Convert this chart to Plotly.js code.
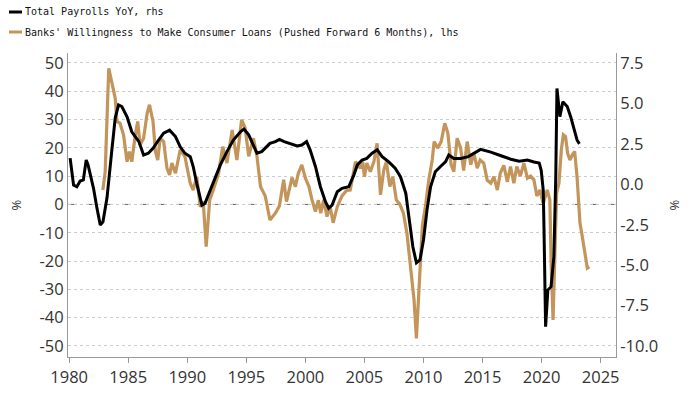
<!DOCTYPE html>
<html>
<head>
<meta charset="utf-8">
<script src="https://cdn.plot.ly/plotly-3.0.1.min.js"></script>
<style>html,body{margin:0;padding:0;background:#fff;}#chart{width:700px;height:394px;}</style>
</head>
<body>
<div id="chart"></div>
<script>
// Total Payrolls YoY (rhs, %)
const payrollYears = [1980.08,1980.37,1980.65,1980.93,1981.2,1981.44,1981.6,1982.06,1982.35,1982.63,1982.86,1983.2,1983.6,1983.9,1984.18,1984.46,1984.9,1985.3,1985.9,1986.3,1986.7,1987.1,1987.57,1988.0,1988.5,1989.0,1989.4,1989.8,1990.25,1990.5,1990.8,1991.24,1991.5,1991.95,1992.4,1992.8,1993.36,1993.9,1994.5,1994.8,1995.2,1995.6,1995.9,1996.3,1996.7,1997.0,1997.46,1997.8,1998.2,1998.7,1999.3,1999.7,2000.1,2000.4,2000.85,2001.27,2001.7,2001.97,2002.26,2002.7,2003.1,2003.67,2004.1,2004.4,2004.8,2005.2,2005.65,2006.08,2006.5,2007.06,2007.6,2008.05,2008.5,2008.8,2009.1,2009.4,2009.7,2010.0,2010.3,2010.6,2011.0,2011.44,2011.86,2012.14,2012.57,2013.14,2013.8,2014.83,2015.7,2016.5,2017.4,2018.1,2018.8,2019.35,2019.8,2019.97,2020.14,2020.2,2020.34,2020.53,2020.8,2021.04,2021.2,2021.3,2021.55,2021.8,2022.17,2022.46,2022.74,2023.0,2023.2];
const payrollValues = [1.62,-0.04,-0.15,0.20,0.27,1.50,1.20,-0.25,-1.46,-2.51,-2.32,-0.85,2.02,4.11,4.91,4.81,4.18,3.25,2.64,1.81,1.92,2.23,2.74,3.16,3.35,2.95,2.32,1.92,1.71,1.10,0.06,-1.29,-1.18,-0.36,0.47,1.20,2.02,2.74,3.25,3.41,3.06,2.43,1.92,2.02,2.32,2.53,2.64,2.78,2.64,2.53,2.37,2.43,2.64,2.13,1.10,-0.15,-1.08,-1.48,-1.29,-0.46,-0.25,-0.15,0.57,1.20,1.50,1.60,1.92,2.13,1.71,1.39,0.99,0.47,-0.55,-2.21,-3.86,-4.86,-4.68,-3.44,-1.58,-0.15,0.78,1.10,1.39,1.81,1.60,1.60,1.71,2.16,1.99,1.78,1.55,1.43,1.50,1.38,1.31,0.85,-0.38,-2.62,-8.81,-6.54,-6.33,-4.47,0.47,5.93,4.18,5.10,4.81,4.18,3.35,2.74,2.50];

// Banks' Willingness to Make Consumer Loans, pushed forward 6 months (lhs, %)
const banksYears = [1982.85,1983.05,1983.35,1983.6,1983.9,1984.04,1984.3,1984.6,1984.9,1985.1,1985.3,1985.6,1985.8,1986.0,1986.3,1986.6,1986.8,1987.1,1987.3,1987.5,1987.7,1988.0,1988.28,1988.5,1988.7,1989.0,1989.4,1989.8,1990.25,1990.5,1990.8,1991.1,1991.35,1991.6,1991.9,1992.2,1992.65,1993.0,1993.36,1993.8,1994.2,1994.6,1994.9,1995.2,1995.6,1995.9,1996.2,1996.6,1997.0,1997.46,1997.8,1998.16,1998.4,1998.87,1999.15,1999.4,1999.7,2000.0,2000.3,2000.56,2000.85,2001.1,2001.3,2001.55,2001.83,2002.1,2002.35,2002.7,2003.1,2003.5,2003.8,2004.24,2004.66,2004.85,2005.0,2005.2,2005.5,2005.8,2006.07,2006.36,2006.64,2006.86,2007.15,2007.4,2007.7,2008.0,2008.3,2008.6,2008.9,2009.2,2009.4,2009.6,2009.75,2009.9,2010.2,2010.45,2010.74,2010.9,2011.2,2011.5,2011.8,2012.06,2012.34,2012.57,2012.85,2013.14,2013.4,2013.7,2014.0,2014.26,2014.55,2014.8,2015.1,2015.4,2015.7,2015.96,2016.25,2016.5,2016.8,2017.1,2017.37,2017.65,2017.9,2018.2,2018.5,2018.8,2019.07,2019.35,2019.6,2019.86,2020.14,2020.48,2020.7,2020.8,2020.97,2021.1,2021.27,2021.47,2021.67,2021.84,2022.03,2022.2,2022.4,2022.6,2022.8,2023.0,2023.25,2023.4,2023.64,2023.87,2024.05];
const banksValues = [5.1,11.6,48.1,43.4,37.5,29.3,28.7,24.6,15.1,18.7,15.1,24.6,29.3,21,23.4,32.2,35.2,29.3,18.7,15.7,23.4,22.2,12.8,10.4,14.6,11,19.3,16.9,7.5,5.1,9.8,-0.8,1.0,-14.9,1.6,5.1,11,20.4,14.6,26.3,15.7,29.9,27,17,23.4,17,6.3,3,-5.5,-3.1,-0.5,8.7,1,9.5,6.3,11,14,9.3,6.3,1.6,-2.5,1.5,-3.1,1.6,-4.3,-0.8,-6.5,-0.8,3,5,5.1,15.1,12.8,15.1,9.8,14.6,11.6,15.1,21.6,3.4,12.2,15.1,6.3,9.8,1.6,0,-3.1,-10.2,-23.1,-33.7,-47.3,-31.4,-14.9,-7.8,0.4,8.7,15.7,22.2,19.9,22.2,28.7,25.2,14,11.6,23.4,20,12,22.2,14,18.1,12.8,15.7,14.6,8.5,7.5,9.8,5.1,11,13.8,8,13.4,7.5,13.4,10,14.6,9.3,10,8.7,3,5.1,0.4,5.1,1.6,-19.6,-40.8,-19.6,4,7.5,19.3,24.6,24,18.1,15.7,17.5,18.7,9.8,-6.6,-10.2,-16.1,-22.5,-22];

const xTicks = [1980,1985,1990,1995,2000,2005,2010,2015,2020,2025];
const leftTicks = [-50,-40,-30,-20,-10,0,10,20,30,40,50];
const rightTicks = [-10,-7.5,-5,-2.5,0,2.5,5,7.5];
const legendLabels = ["Total Payrolls YoY, rhs", "Banks' Willingness to Make Consumer Loans (Pushed Forward 6 Months), lhs"];

const GOLD = '#C3955B';
const tickFont = {family: 'Open Sans, Liberation Sans, sans-serif', size: 16.5, color: '#333'};

const traces = [
  {x: banksYears, y: banksValues, type: 'scatter', mode: 'lines', yaxis: 'y',
   line: {color: GOLD, width: 3.2}, name: legendLabels[1], hoverinfo: 'skip'},
  {x: payrollYears, y: payrollValues, type: 'scatter', mode: 'lines', yaxis: 'y2',
   line: {color: '#000', width: 3}, name: legendLabels[0], hoverinfo: 'skip'}
];

// plot area pixels: x 68..616, y 53..357
const L = 68, R = 616, T = 53, B = 357;
const px = p => (p - L) / (R - L);
const py = p => (B - p) / (B - T);

const layout = {
  width: 700, height: 394,
  margin: {l: L, r: 700 - R, t: T, b: 394 - B, pad: 0},
  paper_bgcolor: '#fff', plot_bgcolor: '#fff',
  showlegend: false,
  xaxis: {
    range: [1979.9, 2026.3], tickvals: xTicks, ticktext: xTicks.map(String),
    showgrid: false, zeroline: false, showline: true, linecolor: '#999', linewidth: 1,
    ticks: 'outside', ticklen: 5, tickcolor: '#999', tickfont: tickFont
  },
  yaxis: {
    range: [-53.9, 53.5], tickvals: leftTicks, ticktext: leftTicks.map(String),
    showgrid: true, gridcolor: '#cccccc', griddash: 'dot', gridwidth: 1,
    zeroline: false, showline: true, linecolor: '#999', linewidth: 1, ticks: '',
    tickfont: tickFont,
    title: {text: '%', font: {family: 'Open Sans, sans-serif', size: 13, color: '#333'}, standoff: 14}
  },
  yaxis2: {
    range: [-10.68, 8.12], overlaying: 'y', side: 'right',
    tickvals: rightTicks, ticktext: rightTicks.map(v => v.toFixed(1)),
    showgrid: false, zeroline: false, showline: true, linecolor: '#999', linewidth: 1, ticks: '',
    tickfont: tickFont,
    title: {text: '%', font: {family: 'Open Sans, sans-serif', size: 13, color: '#333'}, standoff: 12}
  },
  shapes: [
    {type: 'line', xref: 'paper', yref: 'y', x0: 0, x1: 1, y0: 0, y1: 0,
     line: {color: '#666', width: 1, dash: 'dash'}, layer: 'below'},
    {type: 'line', xref: 'paper', yref: 'paper', x0: px(9), x1: px(22), y0: py(12), y1: py(12),
     line: {color: '#000', width: 3}},
    {type: 'line', xref: 'paper', yref: 'paper', x0: px(9), x1: px(22), y0: py(32), y1: py(32),
     line: {color: GOLD, width: 3}}
  ],
  annotations: [
    {xref: 'paper', yref: 'paper', x: px(23), y: py(12), xanchor: 'left', yanchor: 'middle',
     text: legendLabels[0], showarrow: false,
     font: {family: 'DejaVu Sans Mono, monospace', size: 10, color: '#111'}},
    {xref: 'paper', yref: 'paper', x: px(23), y: py(32), xanchor: 'left', yanchor: 'middle',
     text: legendLabels[1], showarrow: false,
     font: {family: 'DejaVu Sans Mono, monospace', size: 10, color: '#111'}}
  ]
};

Plotly.newPlot('chart', traces, layout, {staticPlot: true, displayModeBar: false});
</script>
</body>
</html>
